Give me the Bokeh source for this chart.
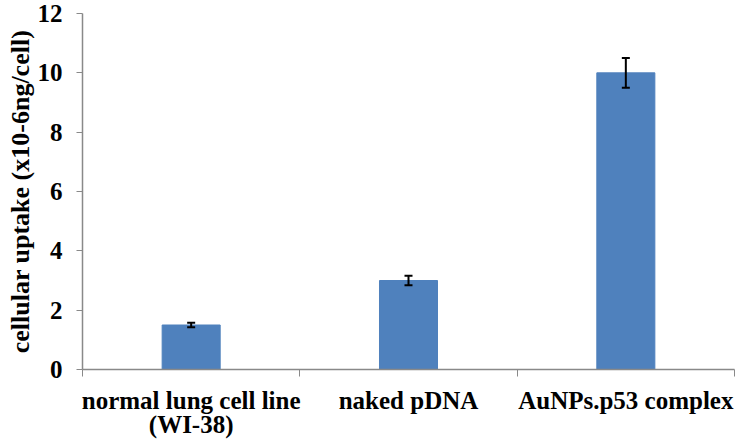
from bokeh.plotting import figure
from bokeh.models import ColumnDataSource, FixedTicker, Range1d, Whisker, LinearAxis
from bokeh.embed import file_html
from bokeh.resources import INLINE

categories = ["normal lung cell line", "naked pDNA", "AuNPs.p53 complex"]
category_sublines = ["(WI-38)", "", ""]
values = [1.5, 3.0, 10.0]
errors = [0.08, 0.16, 0.5]
y_ticks = [0, 2, 4, 6, 8, 10, 12]

xs = [i + 0.5 for i in range(len(categories))]
src = ColumnDataSource(dict(
    x=xs, top=values,
    lower=[v - e for v, e in zip(values, errors)],
    upper=[v + e for v, e in zip(values, errors)],
))

p = figure(width=735, height=443, output_backend="svg", toolbar_location=None,
           x_range=Range1d(0, len(categories)), y_range=Range1d(0, 12),
           min_border_left=82, min_border_right=1, min_border_top=13, min_border_bottom=74)
p.outline_line_color = None
p.grid.visible = False
p.background_fill_color = "white"

p.vbar(x="x", top="top", width=0.267, bottom=0, source=src,
       fill_color="#4F81BD", line_color="#4F81BD")

w = Whisker(base="x", lower="lower", upper="upper", source=src,
            line_color="black", line_width=2, level="overlay")
for h in (w.upper_head, w.lower_head):
    h.size = 8
    h.line_width = 2
    h.line_color = "black"
p.add_layout(w)

font = "Liberation Serif"
ax = p.xaxis[0]
ax.ticker = FixedTicker(ticks=xs, minor_ticks=list(range(len(categories) + 1)))
ax.major_label_overrides = {x: c for x, c in zip(xs, categories)}
ax.major_tick_out = 0
ax.major_tick_in = 0
ax.minor_tick_out = 7
ax.minor_tick_in = 0
ax.minor_tick_line_color = "#898989"
ax.axis_line_color = "#898989"
ax.axis_line_width = 1.5
ax.major_label_text_font = font
ax.major_label_text_font_style = "bold"
ax.major_label_text_font_size = "25px"
ax.major_label_text_color = "black"
ax.major_label_standoff = 10

sub_x = [x for x, s in zip(xs, category_sublines) if s]
ax2 = LinearAxis(ticker=FixedTicker(ticks=sub_x, minor_ticks=[]),
                 major_label_overrides={x: s for x, s in zip(xs, category_sublines) if s},
                 axis_line_color=None, major_tick_line_color=None,
                 minor_tick_line_color=None, major_tick_out=0, major_tick_in=0,
                 major_label_text_font=font, major_label_text_font_style="bold",
                 major_label_text_font_size="25px", major_label_text_color="black",
                 major_label_standoff=-6)
p.add_layout(ax2, "below")

ay = p.yaxis[0]
ay.ticker = FixedTicker(ticks=y_ticks)
ay.minor_tick_line_color = None
ay.major_tick_out = 6
ay.major_tick_in = 0
ay.major_tick_line_color = "#898989"
ay.axis_line_color = "#898989"
ay.axis_line_width = 1.5
ay.major_label_text_font = font
ay.major_label_text_font_style = "bold"
ay.major_label_text_font_size = "25px"
ay.major_label_text_color = "black"
ay.major_label_standoff = 14
ay.axis_label = "cellular uptake (x10-6ng/cell)"
ay.axis_label_text_font = font
ay.axis_label_text_font_style = "bold"
ay.axis_label_text_font_size = "26px"
ay.axis_label_text_color = "black"
ay.axis_label_standoff = 0

open("out.html", "w").write(file_html(p, INLINE))
